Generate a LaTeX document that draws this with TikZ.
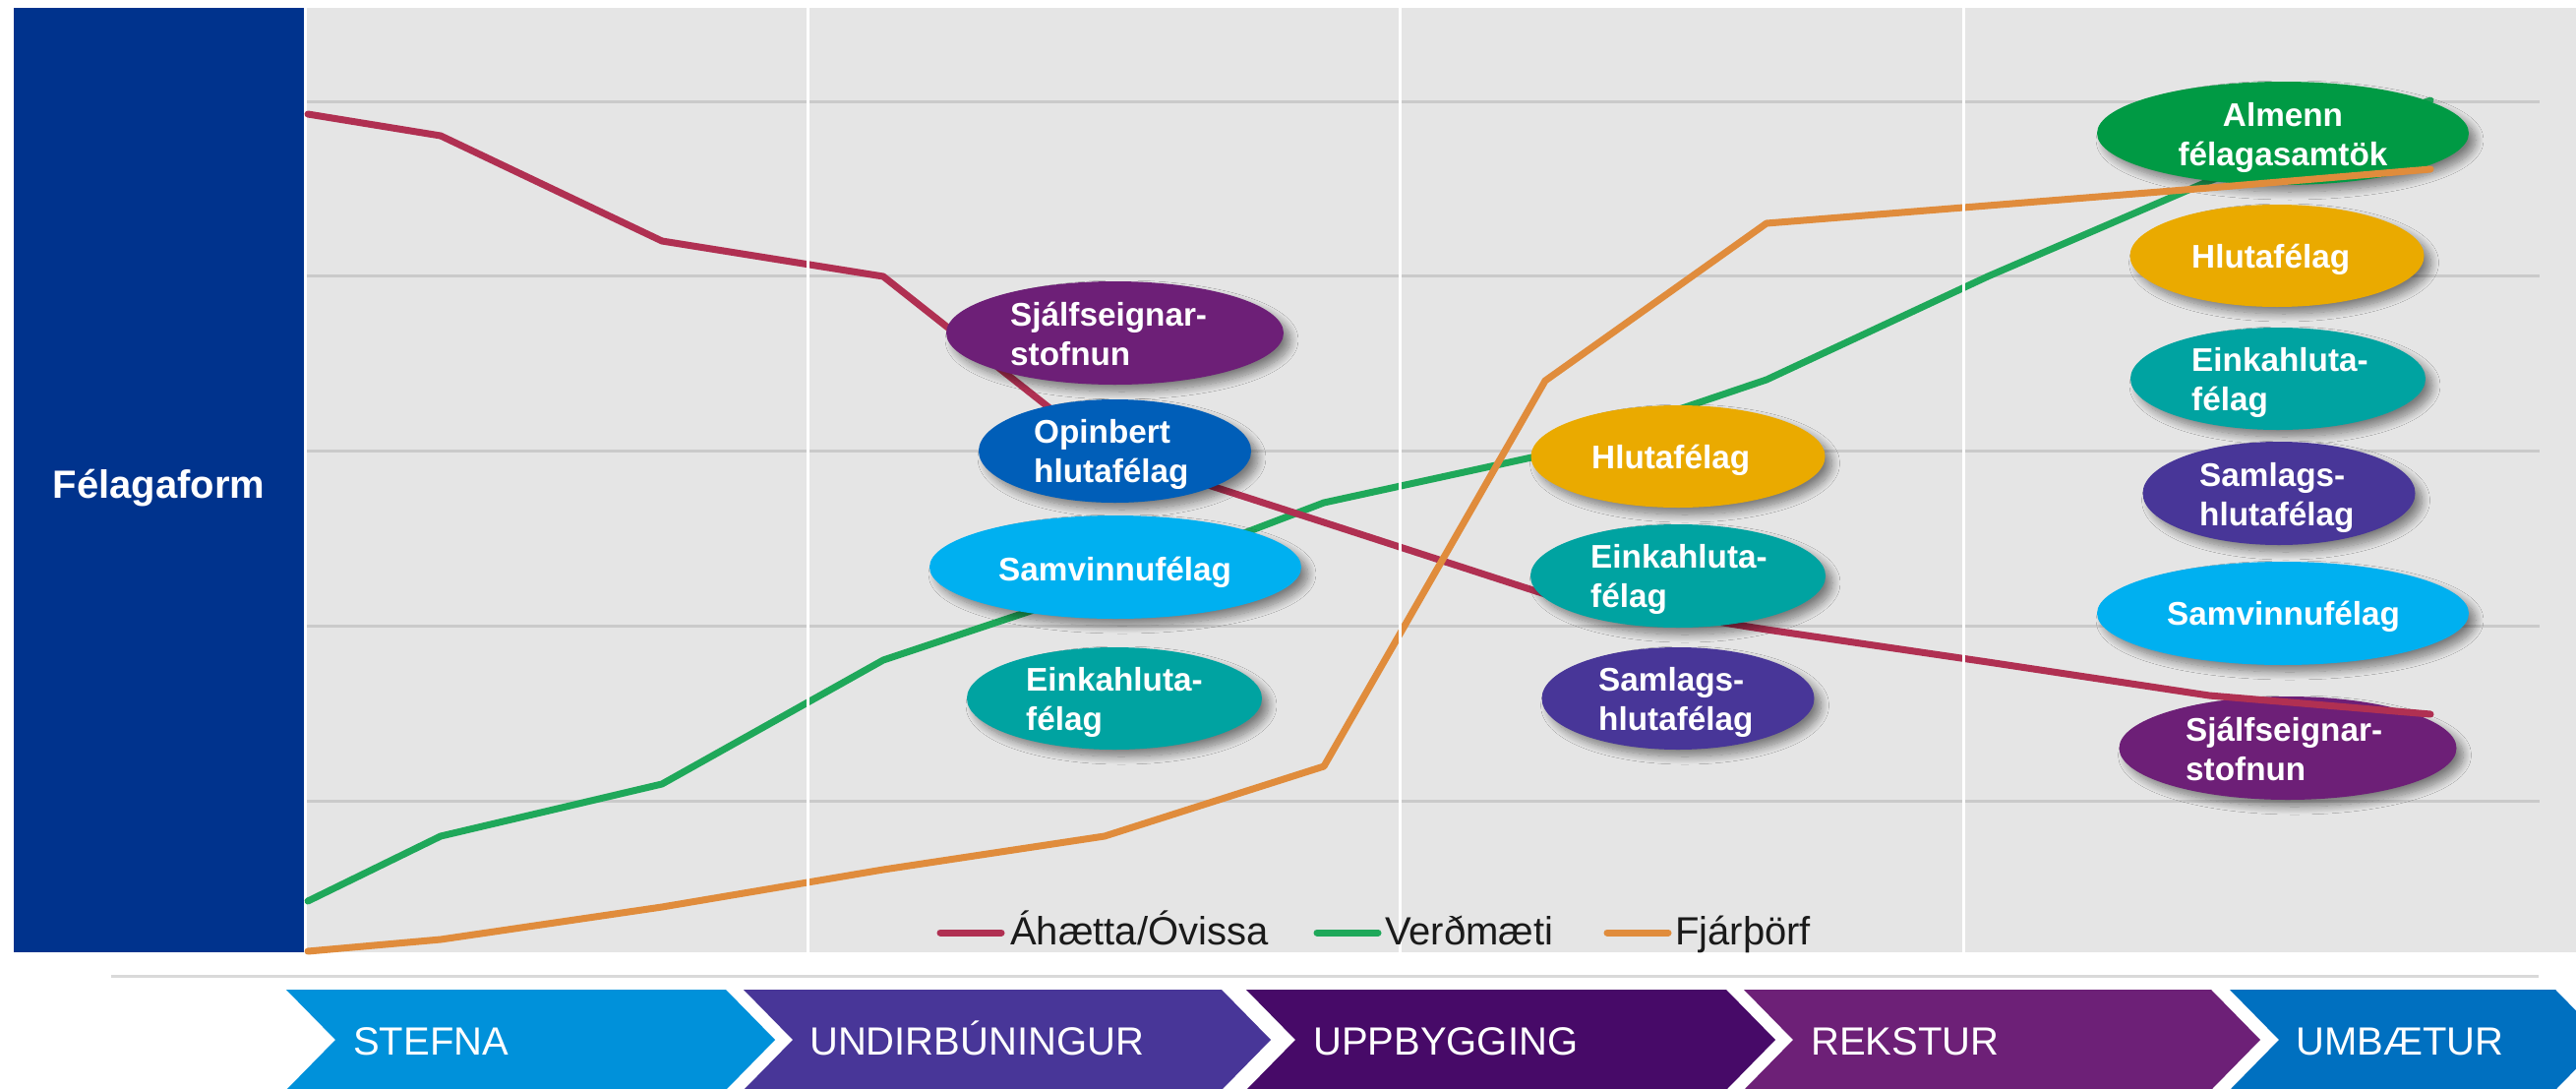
\documentclass[tikz,border=0pt]{standalone}
\usepackage{fontspec}
\setmainfont{Liberation Sans}
\usetikzlibrary{shapes.geometric,shadows.blur}
\definecolor{bgc}{HTML}{E5E5E5}
\definecolor{gridc}{HTML}{CACACA}
\definecolor{sepc}{HTML}{D9D9D9}
\definecolor{panelc}{HTML}{00338D}
\definecolor{riskc}{HTML}{B03052}
\definecolor{valc}{HTML}{1FA85A}
\definecolor{finc}{HTML}{E08C3C}
\definecolor{legtxt}{HTML}{1A1A1A}
\definecolor{cpurple}{HTML}{6D1F77}
\definecolor{cblue}{HTML}{005EB8}
\definecolor{ccyan}{HTML}{00B0F0}
\definecolor{cteal}{HTML}{00A3A1}
\definecolor{cgold}{HTML}{EAAA00}
\definecolor{cviolet}{HTML}{483698}
\definecolor{cgreen}{HTML}{009A44}
\definecolor{chA}{HTML}{0091DA}
\definecolor{chB}{HTML}{483698}
\definecolor{chC}{HTML}{470A68}
\definecolor{chD}{HTML}{6D2077}
\definecolor{chE}{HTML}{0070C0}
\begin{document}
\begin{tikzpicture}[x=1pt,y=-1pt,
  ell/.style={ellipse, inner sep=0pt, blur shadow={shadow xshift=7pt, shadow yshift=-7pt, shadow blur radius=8pt, shadow blur steps=12, shadow opacity=45}},
  etxt/.style={text=white, font=\bfseries\fontsize{33.3}{40}\selectfont, inner sep=0pt, align=left, anchor=base west},
  ctxt/.style={text=white, font=\fontsize{40}{48}\selectfont, inner sep=0pt, anchor=base west},
  ltxt/.style={text=legtxt, font=\fontsize{40}{48}\selectfont, inner sep=0pt, anchor=base west},
  dline/.style={line width=7pt, line join=round, line cap=round},
  grid/.style={draw=gridc, line width=3pt},
  vsep/.style={draw=white, line width=3pt},
]
\useasboundingbox (0,0) rectangle (2619,1106);
\fill[white] (0,0) rectangle (2619,1106);
% chart background
\fill[bgc] (312,8) rectangle (2619,968);
\foreach \yy in {103,280.5,458,636,814} \draw[grid] (312,\yy) -- (2582,\yy);

% value line (runs under all ellipses)
\draw[dline, valc] (313,916) -- (448,850) -- (673,797) -- (898,671) -- (1123,596) -- (1346,511) -- (1571,462) -- (1796,386) -- (2021,281) -- (2246,184) -- (2471,102);

% right column ellipses
\node[ell, fill=cgreen,  minimum width=378pt, minimum height=105pt] (e8)  at (2321,135.5) {};
\node[ell, fill=cgold,   minimum width=299pt, minimum height=104pt] (e9)  at (2315,260) {};
\node[ell, fill=cteal,   minimum width=300pt, minimum height=104pt] (e10) at (2316,385) {};
\node[ell, fill=cviolet, minimum width=277pt, minimum height=105pt] (e11) at (2317,501.5) {};
\node[ell, fill=ccyan,   minimum width=378pt, minimum height=105pt] (e12) at (2321,623.5) {};
\node[ell, fill=cpurple, minimum width=343pt, minimum height=105pt] (e13) at (2326,760.5) {};

% risk and finance lines (run over the right column)
\draw[dline, riskc] (313,116) -- (448,138) -- (673,245) -- (898,281) -- (1123,459) -- (1346,531) -- (1571,604) -- (1796,640) -- (2021,673) -- (2246,707) -- (2471,726);
\draw[dline, finc] (313,967) -- (448,955) -- (673,922) -- (898,884) -- (1123,850) -- (1346,779) -- (1571,387) -- (1796,227) -- (2021,209) -- (2246,191) -- (2471,172);

% vertical separators
\foreach \xx in {821,1423,1996} \draw[vsep] (\xx,8) -- (\xx,968);

% left and middle ellipses
\node[ell, fill=cpurple, minimum width=343pt, minimum height=105pt] (e1) at (1133.5,338.5) {};
\node[ell, fill=cblue,   minimum width=277pt, minimum height=105pt] (e2) at (1133.5,458.5) {};
\node[ell, fill=ccyan,   minimum width=378pt, minimum height=105pt] (e3) at (1134,576.5) {};
\node[ell, fill=cteal,   minimum width=300pt, minimum height=104pt] (e4) at (1133,710) {};
\node[ell, fill=cgold,   minimum width=299pt, minimum height=104pt] (e5) at (1706,464) {};
\node[ell, fill=cteal,   minimum width=300pt, minimum height=105pt] (e6) at (1706,585.5) {};
\node[ell, fill=cviolet, minimum width=277pt, minimum height=104pt] (e7) at (1706,710) {};

% ellipse texts (base anchor = last line baseline)
\node[etxt] (t1) at (1027,371) {Sjálfseignar-\\stofnun};
\node[etxt] (t2) at (1051,490) {Opinbert\\hlutafélag};
\node[etxt] (t3) at (1015,590) {Samvinnufélag};
\node[etxt] (t4) at (1043,742) {Einkahluta-\\félag};
\node[etxt] (t5) at (1618,476) {Hlutafélag};
\node[etxt] (t6) at (1617,617) {Einkahluta-\\félag};
\node[etxt] (t7) at (1625,742) {Samlags-\\hlutafélag};
\node[etxt, align=center, anchor=base] (t8) at (2321,168) {Almenn\\félagasamtök};
\node[etxt] (t9)  at (2228,272) {Hlutafélag};
\node[etxt] (t10) at (2228,417) {Einkahluta-\\félag};
\node[etxt] (t11) at (2236,534) {Samlags-\\hlutafélag};
\node[etxt] (t12) at (2203,635) {Samvinnufélag};
\node[etxt] (t13) at (2222,793) {Sjálfseignar-\\stofnun};

% legend
\coordinate (lr1) at (956,948); \coordinate (lr2) at (1018,948);
\coordinate (lg1) at (1339,948); \coordinate (lg2) at (1401,948);
\coordinate (lo1) at (1634,948); \coordinate (lo2) at (1696,948);
\draw[dline, riskc] (lr1) -- (lr2);
\draw[dline, valc] (lg1) -- (lg2);
\draw[dline, finc] (lo1) -- (lo2);
\node[ltxt] (lt1) at (1027,960) {Áhætta/Óvissa};
\node[ltxt] (lt2) at (1408,960) {Verðmæti};
\node[ltxt] (lt3) at (1703,960) {Fjárþörf};

% left panel
\node[fill=panelc, anchor=north west, inner sep=0pt, minimum width=295pt, minimum height=960pt] (panel) at (14,8) {};
\node[text=white, font=\bfseries\fontsize{40}{48}\selectfont, inner sep=0pt, anchor=base] (ptxt) at (161.5,506) {Félagaform};

% separator
\draw[sepc, line width=3pt] (113,992) -- (2581,992);

% chevrons
\fill[chA] (291,1006) -- (738,1006) -- (788,1057) -- (738,1108) -- (291,1108) -- (341,1057) -- cycle;
\fill[chB] (756,1006) -- (1242,1006) -- (1292,1057) -- (1242,1108) -- (756,1108) -- (806,1057) -- cycle;
\fill[chC] (1267,1006) -- (1755,1006) -- (1805,1057) -- (1755,1108) -- (1267,1108) -- (1317,1057) -- cycle;
\fill[chD] (1773,1006) -- (2248,1006) -- (2298,1057) -- (2248,1108) -- (1773,1108) -- (1823,1057) -- cycle;
\fill[chE] (2267,1006) -- (2598,1006) -- (2648,1057) -- (2598,1108) -- (2267,1108) -- (2317,1057) -- cycle;
\node[ctxt] (c1) at (359,1072) {STEFNA};
\node[ctxt] (c2) at (823,1072) {UNDIRBÚNINGUR};
\node[ctxt] (c3) at (1335,1072) {UPPBYGGING};
\node[ctxt] (c4) at (1841,1072) {REKSTUR};
\node[ctxt] (c5) at (2334,1072) {UMBÆTUR};
\end{tikzpicture}
\end{document}
